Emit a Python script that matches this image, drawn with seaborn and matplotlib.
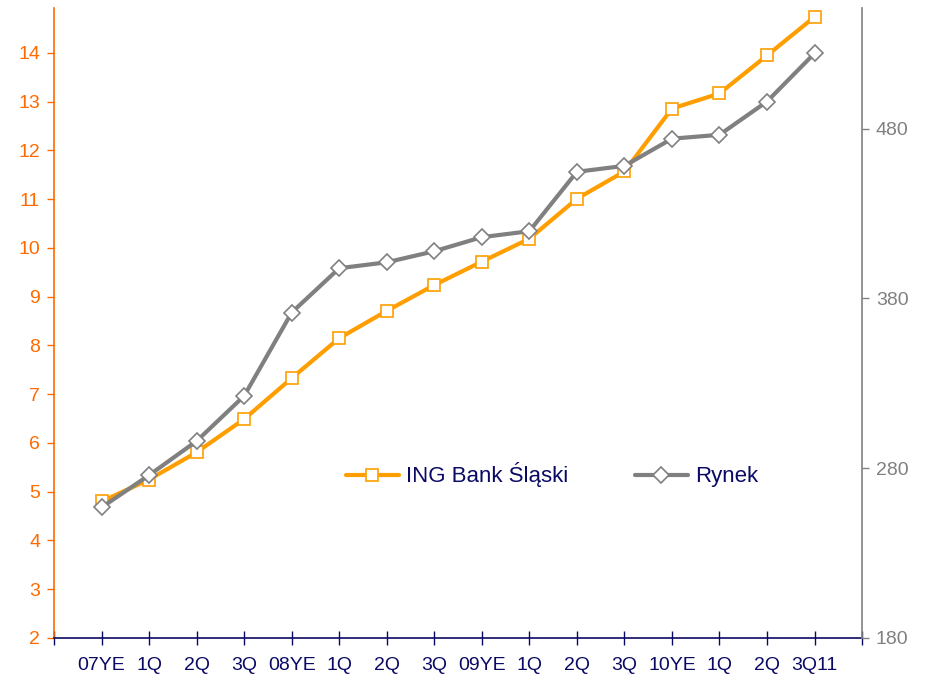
import numpy as np
import pandas as pd
import matplotlib
matplotlib.use("Agg")
import matplotlib.pyplot as plt
import seaborn as sns

sns.set_theme(style="white")
plt.rcParams['font.family'] = ['Liberation Sans', 'DejaVu Sans']

# --- data ---
quarters = ["07YE", "1Q", "2Q", "3Q", "08YE", "1Q", "2Q", "3Q",
            "09YE", "1Q", "2Q", "3Q", "10YE", "1Q", "2Q", "3Q11"]
ing_values = [4.80, 5.25, 5.81, 6.49, 7.33, 8.15, 8.71, 9.24,
              9.72, 10.19, 11.01, 11.57, 12.86, 13.17, 13.95, 14.74]
rynek_values = [256.9, 275.9, 296.0, 322.6, 371.7, 397.8, 401.3, 407.8,
                416.1, 419.6, 454.6, 458.1, 474.1, 476.4, 496.0, 524.4]

ORANGE = "#FF9E00"
ORANGE_AX = "#FF6A00"
GRAY = "#808080"
NAVY = "#0A0A64"

df = pd.DataFrame({"pos": np.arange(len(quarters)),
                   "ing": ing_values, "rynek": rynek_values})

fig = plt.figure(figsize=(9.25, 6.78), dpi=100)
ax = fig.add_axes([0.0584, 0.059, 0.8736, 0.929])
ax2 = ax.twinx()

sns.lineplot(data=df, x="pos", y="ing", ax=ax, color=ORANGE, lw=3,
             marker="s", markersize=9, markerfacecolor="white",
             markeredgecolor=ORANGE, markeredgewidth=1.2,
             label="ING Bank Śląski", legend=False)
sns.lineplot(data=df, x="pos", y="rynek", ax=ax2, color=GRAY, lw=3,
             marker="D", markersize=8, markerfacecolor="white",
             markeredgecolor=GRAY, markeredgewidth=1.2,
             label="Rynek", legend=False)

ax.set_xlim(-1, 16)
ax.set_ylim(2, 14.92)
ax2.set_ylim(180, 551)
ax.set_yticks(range(2, 15))
ax2.set_yticks([180, 280, 380, 480])

ax.set_xticks(range(-1, 17))
ax.set_xticklabels([""] + quarters + [""])
ax.set_xlabel("")
ax.set_ylabel("")
ax2.set_ylabel("")
ax.grid(False)
ax2.grid(False)

for a in (ax, ax2):
    a.spines["top"].set_visible(False)
ax.spines["right"].set_visible(False)
ax2.spines["left"].set_visible(False)
ax2.spines["bottom"].set_visible(False)
ax.spines["left"].set_color(ORANGE_AX)
ax.spines["left"].set_linewidth(1.2)
ax.spines["bottom"].set_color(NAVY)
ax.spines["bottom"].set_linewidth(1.2)
ax2.spines["right"].set_color(GRAY)
ax2.spines["right"].set_linewidth(1.2)

ax.tick_params(axis="x", direction="inout", length=10, width=1, color=NAVY,
               labelcolor=NAVY, labelsize=14, pad=9, bottom=True)
ax.tick_params(axis="y", direction="out", length=5, width=1, color=ORANGE_AX,
               labelcolor=ORANGE_AX, labelsize=14, pad=5, left=True)
ax2.tick_params(axis="y", direction="out", length=5, width=1, color=GRAY,
                labelcolor=GRAY, labelsize=14, pad=5, right=True)

h1, l1 = ax.get_legend_handles_labels()
h2, l2 = ax2.get_legend_handles_labels()
leg = ax2.legend(h1 + h2, l1 + l2, loc="center", bbox_to_anchor=(0.616, 0.259),
                 ncol=2, frameon=False, fontsize=16, handlelength=2.4,
                 handletextpad=0.3, columnspacing=3.0)
for t in leg.get_texts():
    t.set_color(NAVY)

fig.savefig("out.png", dpi=100)
